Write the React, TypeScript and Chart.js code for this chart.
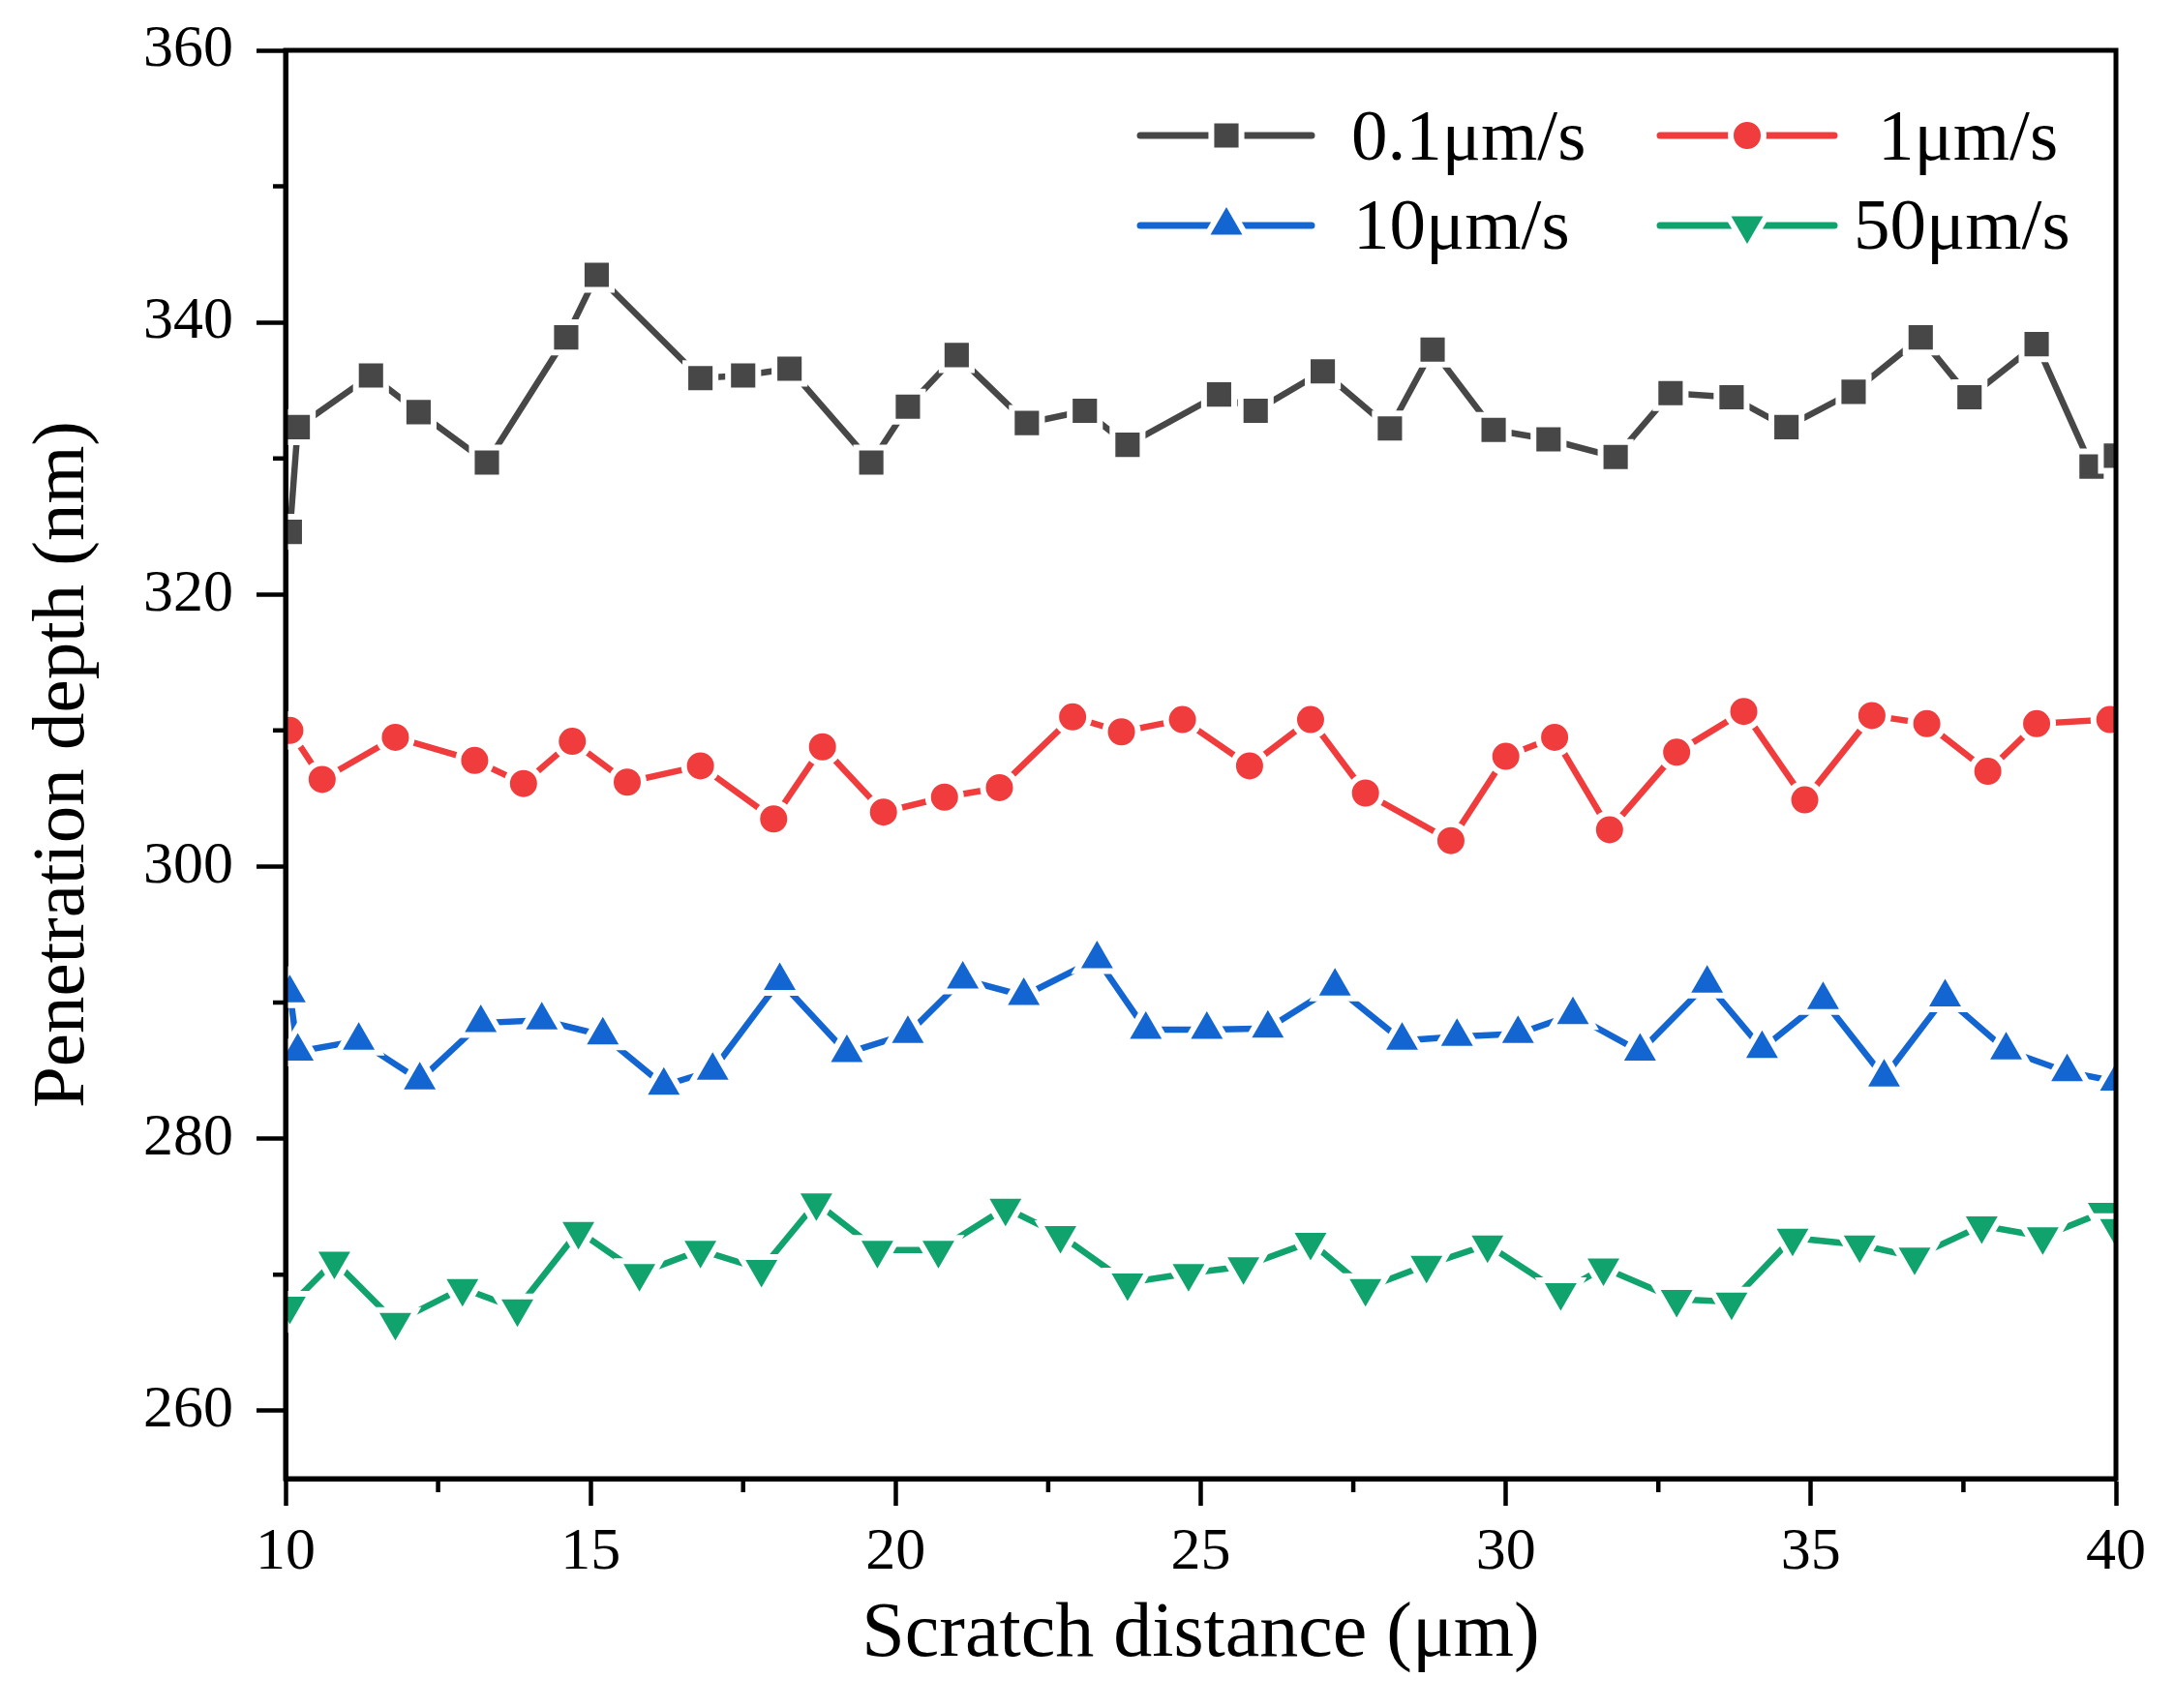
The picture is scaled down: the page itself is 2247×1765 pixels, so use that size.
import { useEffect, useRef } from "react"
import { Chart, registerables, type ChartConfiguration, type Plugin } from "chart.js"

Chart.register(...registerables)

const SERIF = "'Liberation Serif', 'Times New Roman', serif"

// scratch distance (µm) / penetration depth (nm)
const dist01 = [10.07, 10.2, 11.4, 12.18, 13.3, 14.6, 15.1, 16.8, 17.5, 18.26, 19.6, 20.2, 21.0, 22.15, 23.1, 23.8, 25.3, 25.9, 27.0, 28.1, 28.8, 29.8, 30.7, 31.8, 32.7, 33.7, 34.6, 35.7, 36.8, 37.6, 38.7, 39.6, 40.0]
const depth01 = [324.6, 332.3, 336.1, 333.4, 329.7, 338.9, 343.5, 335.9, 336.1, 336.6, 329.7, 333.8, 337.6, 332.6, 333.5, 331.0, 334.7, 333.5, 336.4, 332.2, 338.0, 332.1, 331.4, 330.1, 334.8, 334.5, 332.3, 334.9, 338.9, 334.5, 338.4, 329.4, 330.2]

const dist1 = [10.07, 10.6, 11.8, 13.1, 13.9, 14.7, 15.6, 16.8, 18.0, 18.8, 19.8, 20.8, 21.7, 22.9, 23.7, 24.7, 25.8, 26.8, 27.7, 29.1, 30.0, 30.8, 31.7, 32.8, 33.9, 34.9, 36.0, 36.9, 37.9, 38.7, 39.9]
const depth1 = [310.0, 306.4, 309.5, 307.8, 306.1, 309.2, 306.2, 307.4, 303.5, 308.8, 304.0, 305.1, 305.8, 311.0, 309.9, 310.8, 307.4, 310.8, 305.4, 301.9, 308.1, 309.5, 302.7, 308.4, 311.4, 304.9, 311.1, 310.5, 307.0, 310.5, 310.8]

const dist10 = [10.07, 10.2, 11.2, 12.2, 13.2, 14.2, 15.2, 16.2, 17.0, 18.1, 19.2, 20.2, 21.1, 22.1, 23.3, 24.1, 25.1, 26.1, 27.2, 28.3, 29.2, 30.2, 31.1, 32.2, 33.3, 34.2, 35.2, 36.2, 37.2, 38.2, 39.2, 40.0]
const depth10 = [290.7, 286.4, 287.2, 284.3, 288.5, 288.7, 287.6, 283.9, 285.0, 291.6, 286.3, 287.7, 291.7, 290.5, 293.2, 288.0, 288.0, 288.1, 291.2, 287.2, 287.5, 287.7, 289.1, 286.4, 291.4, 286.6, 290.2, 284.5, 290.4, 286.5, 284.9, 284.2]

const dist50 = [10.07, 10.8, 11.8, 12.9, 13.8, 14.8, 15.8, 16.8, 17.8, 18.7, 19.7, 20.7, 21.8, 22.7, 23.8, 24.8, 25.7, 26.8, 27.7, 28.7, 29.7, 30.9, 31.6, 32.8, 33.7, 34.7, 35.8, 36.7, 37.8, 38.8, 39.8, 40.0]
const depth50 = [267.7, 271.0, 266.5, 269.0, 267.5, 273.2, 270.1, 271.8, 270.4, 275.3, 271.8, 271.8, 274.9, 272.9, 269.4, 270.1, 270.6, 272.4, 269.0, 270.7, 272.2, 268.7, 270.5, 268.2, 268.0, 272.7, 272.2, 271.3, 273.6, 272.8, 274.6, 273.4]

const seriesLabels = ["0.1μm/s", "1μm/s", "10μm/s", "50μm/s"]
const seriesX = [dist01, dist1, dist10, dist50]
const seriesY = [depth01, depth1, depth10, depth50]

const xMajorTicks = [10, 15, 20, 25, 30, 35, 40]
const xMinorTicks = [12.5, 17.5, 22.5, 27.5, 32.5, 37.5]
const yMajorTicks = [260, 280, 300, 320, 340, 360]
const yMinorTicks = [270, 290, 310, 330, 350]

// look of each series (Origin-like markers with a small white gap)
const styles = [
  { color: "#474747", shape: "rect", radius: 22, rotation: 0 },
  { color: "#F03C3C", shape: "circle", radius: 17, rotation: 0 },
  { color: "#1366D2", shape: "triangle", radius: 25, rotation: 0 },
  { color: "#10A36E", shape: "triangle", radius: 25, rotation: 180 },
]

// legend boxes, offsets from the plot's top-right corner
const legendSlots = [
  { x1: -1008, x2: -831, mx: -919, y: 88, tx: -790, ty: 113 },
  { x1: -471, x2: -291, mx: -381, y: 88, tx: -246, ty: 113 },
  { x1: -1008, x2: -831, mx: -919, y: 181, tx: -788, ty: 205 },
  { x1: -471, x2: -291, mx: -381, y: 181, tx: -271, ty: 205 },
]

function drawMarker(ctx: CanvasRenderingContext2D, shape: string, x: number, y: number, r: number, rot: number) {
  ctx.beginPath()
  if (shape === "rect") {
    const h = r * Math.SQRT1_2
    ctx.rect(x - h, y - h, 2 * h, 2 * h)
  } else if (shape === "circle") {
    ctx.arc(x, y, r, 0, Math.PI * 2)
  } else {
    const s = rot === 180 ? -1 : 1
    ctx.moveTo(x, y - s * r)
    ctx.lineTo(x + 0.866 * r, y + s * 0.5 * r)
    ctx.lineTo(x - 0.866 * r, y + s * 0.5 * r)
    ctx.closePath()
  }
  ctx.fill()
  ctx.stroke()
}

const framePlugin: Plugin = {
  id: "frameAndLegend",
  afterDraw(chart) {
    const { ctx, chartArea: a, scales } = chart
    ctx.save()
    ctx.strokeStyle = "#000"
    ctx.lineWidth = 5
    ctx.strokeRect(a.left, a.top, a.right - a.left, a.bottom - a.top)

    ctx.beginPath()
    xMinorTicks.forEach((v) => {
      const px = scales.x.getPixelForValue(v)
      ctx.moveTo(px, a.bottom)
      ctx.lineTo(px, a.bottom + 14)
    })
    yMinorTicks.forEach((v) => {
      const py = scales.y.getPixelForValue(v)
      ctx.moveTo(a.left, py)
      ctx.lineTo(a.left - 13, py)
    })
    ctx.lineWidth = 4.5
    ctx.stroke()

    // legend
    ctx.font = `75px ${SERIF}`
    ctx.textBaseline = "alphabetic"
    ctx.textAlign = "left"
    seriesLabels.forEach((label, i) => {
      const st = styles[i]
      const slot = legendSlots[i]
      const y = a.top + slot.y
      ctx.strokeStyle = st.color
      ctx.lineWidth = 7
      ctx.lineCap = "round"
      ctx.beginPath()
      ctx.moveTo(a.right + slot.x1, y)
      ctx.lineTo(a.right + slot.x2, y)
      ctx.stroke()
      ctx.fillStyle = st.color
      ctx.strokeStyle = "#fff"
      ctx.lineWidth = 6
      drawMarker(ctx, st.shape, a.right + slot.mx, y, st.radius, st.rotation)
      ctx.fillStyle = "#000"
      ctx.fillText(label, a.right + slot.tx, a.top + slot.ty)
    })
    ctx.restore()
  },
}

export default function App() {
  const canvasRef = useRef<HTMLCanvasElement>(null)

  useEffect(() => {
    if (!canvasRef.current) return
    const ctx = canvasRef.current.getContext("2d")
    if (!ctx) return

    const config: ChartConfiguration = {
      type: "line",
      data: {
        datasets: seriesLabels.map((label, i) => ({
          label,
          data: seriesX[i].map((x, j) => ({ x, y: seriesY[i][j] })),
          borderColor: styles[i].color,
          backgroundColor: styles[i].color,
          borderWidth: 6.5,
          tension: 0,
          pointStyle: styles[i].shape,
          pointRadius: styles[i].radius,
          pointRotation: styles[i].rotation,
          pointBackgroundColor: styles[i].color,
          pointBorderColor: "#fff",
          pointBorderWidth: 6,
          clip: 0,
        })),
      },
      options: {
        animation: false,
        responsive: true,
        maintainAspectRatio: false,
        layout: { padding: { top: 52, right: 61, left: 0, bottom: 0 } },
        plugins: {
          legend: { display: false },
          tooltip: { enabled: false },
        },
        scales: {
          x: {
            type: "linear",
            position: "bottom",
            min: 10,
            max: 40,
            afterBuildTicks: (axis) => {
              axis.ticks = xMajorTicks.map((value) => ({ value }))
            },
            afterFit: (scale) => {
              scale.height = 237
            },
            ticks: {
              color: "#000",
              font: { family: SERIF, size: 62 },
              padding: 12,
              maxRotation: 0,
              autoSkip: false,
            },
            grid: {
              drawOnChartArea: false,
              tickLength: 28,
              tickWidth: 4.5,
              tickColor: "#000",
            },
            border: { color: "#000", width: 5 },
            title: {
              display: true,
              text: "Scratch distance (μm)",
              color: "#000",
              font: { family: SERIF, size: 80 },
              padding: { top: 0, bottom: 27 },
            },
          },
          y: {
            type: "linear",
            position: "left",
            min: 255,
            max: 360,
            afterBuildTicks: (axis) => {
              axis.ticks = yMajorTicks.map((value) => ({ value }))
            },
            afterFit: (scale) => {
              scale.width = 295
            },
            ticks: {
              color: "#000",
              font: { family: SERIF, size: 62, lineHeight: 0.8 },
              padding: 24,
            },
            grid: {
              drawOnChartArea: false,
              tickLength: 30,
              tickWidth: 4.5,
              tickColor: "#000",
            },
            border: { color: "#000", width: 5 },
            title: {
              display: true,
              text: "Penetration depth (nm)",
              color: "#000",
              font: { family: SERIF, size: 77 },
              padding: { top: 20, bottom: 0 },
            },
          },
        },
      },
      plugins: [framePlugin],
    }

    const chart = new Chart(ctx, config)
    return () => {
      chart.destroy()
    }
  }, [])

  return (
    <div style={{ position: "fixed", left: 0, top: 0, width: 2247, height: 1765, background: "#fff" }}>
      <canvas ref={canvasRef} />
    </div>
  )
}
